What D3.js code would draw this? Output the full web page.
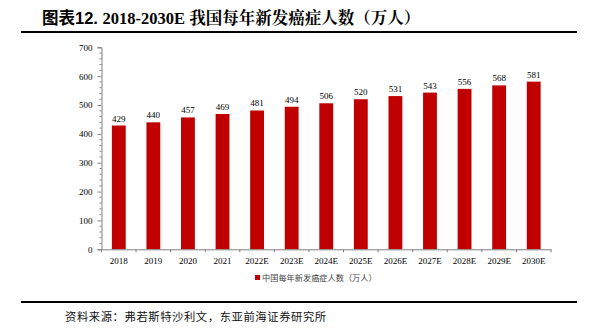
<!DOCTYPE html>
<html><head><meta charset="utf-8">
<script src="https://cdn.jsdelivr.net/npm/d3@7"></script>
<style>body{margin:0;background:#fff}svg{display:block}</style>
</head><body>
<script>
const categories = ["2018","2019","2020","2021","2022E","2023E","2024E","2025E","2026E","2027E","2028E","2029E","2030E"];
const values = [429,440,457,469,481,494,506,520,531,543,556,568,581];
const yTicks = [0,100,200,300,400,500,600,700];
const seriesName = "中国每年新发癌症人数（万人）";
const titleText = "2018-2030E 我国每年新发癌症人数（万人）";
const sourceText = "资料来源：弗若斯特沙利文，东亚前海证券研究所";

const W = 597, H = 336;
const svg = d3.select("body").append("svg").attr("width", W).attr("height", H);

// title
const t = svg.append("text").attr("x", 42).attr("y", 24).attr("font-size", 16.5).attr("font-weight", "bold").attr("fill", "#000");
t.append("tspan").attr("font-family", "'Noto Sans CJK SC', sans-serif").text("图表");
t.append("tspan").attr("font-family", "'Liberation Sans', Arial, sans-serif").text("12. ");
t.append("tspan").attr("font-family", "'Liberation Serif', 'Noto Serif CJK SC', 'Noto Sans CJK SC', serif").text(titleText);
svg.append("line").attr("x1", 21).attr("x2", 577).attr("y1", 32).attr("y2", 32).attr("stroke", "#000").attr("stroke-width", 2);

const x0 = 101.5, x1 = 551, yB = 249.3, yT = 47.3;
const x = d3.scaleBand().domain(categories).range([x0, x1]).paddingInner(0.6).paddingOuter(0.3);
const y = d3.scaleLinear().domain([0, 700]).range([yB, yT]);

// bars
svg.append("g").selectAll("rect").data(values).join("rect")
  .attr("x", (d, i) => x(categories[i]))
  .attr("y", d => y(d))
  .attr("width", x.bandwidth())
  .attr("height", d => y(0) - y(d))
  .attr("fill", "#c00000");

// labels
svg.append("g").selectAll("text").data(values).join("text")
  .attr("x", (d, i) => x(categories[i]) + x.bandwidth() / 2)
  .attr("y", d => y(d) - 4)
  .attr("text-anchor", "middle")
  .attr("font-family", "'Liberation Serif', serif")
  .attr("font-size", 9)
  .attr("fill", "#000")
  .text(d => d);

// y axis
const yAxis = svg.append("g").attr("transform", `translate(${x0},0)`)
  .call(d3.axisLeft(y).tickValues(yTicks).tickSize(4).tickPadding(5).tickFormat(d3.format("d")));
yAxis.append("g").selectAll("line").data(d3.range(0, 701, 20).filter(v => v % 100 !== 0)).join("line")
  .attr("x1", -2).attr("x2", 0).attr("y1", d => y(d)).attr("y2", d => y(d)).attr("stroke", "#808080");
yAxis.select(".domain").attr("stroke", "#808080");
yAxis.selectAll(".tick line").attr("stroke", "#808080");
yAxis.selectAll("text").attr("font-family", "'Liberation Serif', serif").attr("font-size", 9).attr("fill", "#000");

// x axis
const xAxis = svg.append("g").attr("transform", `translate(0,${yB})`)
  .call(d3.axisBottom(x).tickSize(0).tickPadding(8));
xAxis.select(".domain").attr("stroke", "#808080");
xAxis.selectAll("text").attr("font-family", "'Liberation Serif', serif").attr("font-size", 9).attr("fill", "#000");
const step = x.step();
const first = x(categories[0]) + x.bandwidth() / 2 - step / 2;
xAxis.append("g").selectAll("line").data(d3.range(categories.length + 1)).join("line")
  .attr("x1", i => first + i * step)
  .attr("x2", i => first + i * step)
  .attr("y1", 0).attr("y2", 3).attr("stroke", "#808080");

// legend
svg.append("rect").attr("x", 255).attr("y", 275).attr("width", 5).attr("height", 5).attr("fill", "#c00000");
svg.append("text").attr("x", 262).attr("y", 281).attr("font-family", "'Noto Sans CJK SC', sans-serif").attr("font-size", 8.2).attr("fill", "#444").text(seriesName);

// source
svg.append("line").attr("x1", 21).attr("x2", 577).attr("y1", 302).attr("y2", 302).attr("stroke", "#000").attr("stroke-width", 2);
svg.append("text").attr("x", 65).attr("y", 321).attr("font-family", "'Noto Sans CJK SC', sans-serif").attr("font-size", 11.3).attr("letter-spacing", 0.6).attr("fill", "#111").text(sourceText);
</script>
</body></html>
